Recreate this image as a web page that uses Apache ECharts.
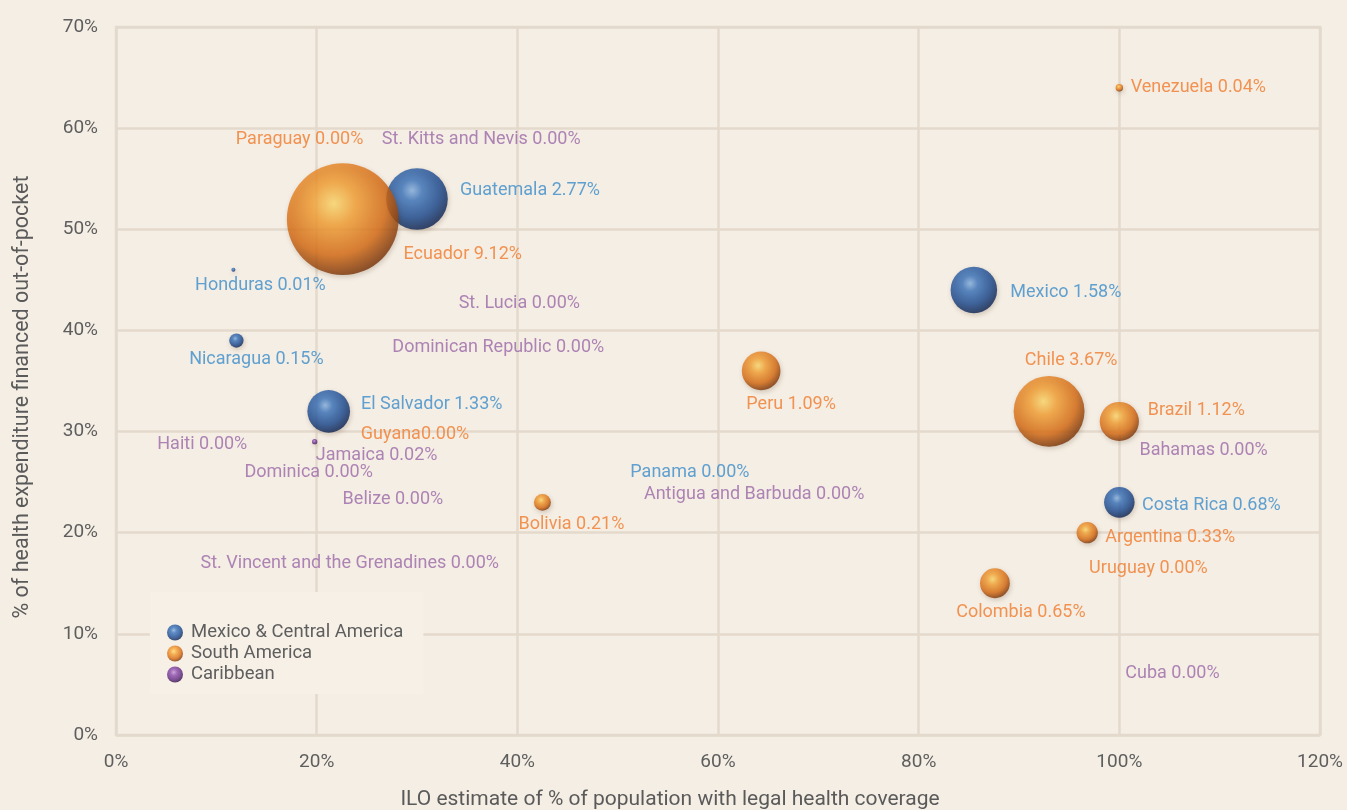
<!DOCTYPE html>
<html>
<head>
<meta charset="utf-8">
<script src="https://cdn.jsdelivr.net/npm/echarts@6/dist/echarts.min.js"></script>
<style>
  html, body { margin: 0; padding: 0; background: #f5eee4; }
  #chart { width: 1347px; height: 810px; }
</style>
</head>
<body>
<div id="chart"></div>
<script>
// Out-of-pocket health spending vs legal coverage, Latin America & Caribbean.
// x: ILO legal coverage (%), y: out-of-pocket share (%), share: bubble value (%)

const centralNames = ['Guatemala', 'Honduras', 'Nicaragua', 'El Salvador', 'Mexico', 'Costa Rica', 'Panama'];
const centralX     = [30, 11.7, 12, 21.2, 85.5, 100, 57.2];
const centralY     = [53, 46, 39, 32, 44, 23, 26];
const centralShare = [2.77, 0.01, 0.15, 1.33, 1.58, 0.68, 0.00];

const southNames = ['Venezuela', 'Ecuador', 'Paraguay', 'Peru', 'Chile', 'Brazil', 'Guyana', 'Bolivia', 'Argentina', 'Uruguay', 'Colombia'];
const southX     = [100, 22.6, 18.3, 64.3, 93, 100, 29.8, 42.5, 96.8, 102.9, 87.6];
const southY     = [64, 51, 58.9, 36, 32, 31, 29.7, 23, 20, 16.5, 15];
const southShare = [0.04, 9.12, 0.00, 1.09, 3.67, 1.12, 0.00, 0.21, 0.33, 0.00, 0.65];

const caribNames = ['St. Kitts and Nevis', 'St. Lucia', 'Dominican Republic', 'Haiti', 'Jamaica', 'Dominica', 'Belize',
                    'Antigua and Barbuda', 'St. Vincent and the Grenadines', 'Bahamas', 'Cuba'];
const caribX     = [36.4, 40.2, 38.1, 8.6, 19.8, 19.2, 27.6, 63.6, 23.3, 108.4, 105.3];
const caribY     = [58.9, 42.7, 38.3, 28.7, 29, 26, 23.3, 23.8, 17, 28.1, 6.1];
const caribShare = [0, 0, 0, 0, 0.02, 0, 0, 0, 0, 0, 0];

const xTicks = [0, 20, 40, 60, 80, 100, 120];
const yTicks = [0, 10, 20, 30, 40, 50, 60, 70];

const BG = '#f5eee4';
const FONT = 'Roboto';

// label placement: pixel offset of label centre from the bubble centre
const labelOffset = {
  'Venezuela': [79, 0], 'Ecuador': [120, 35], 'Guatemala': [113, -8], 'Honduras': [27, 16],
  'Nicaragua': [20, 19], 'El Salvador': [103, -7], 'Jamaica': [62, 14], 'Mexico': [92, 3],
  'Peru': [30, 34], 'Chile': [22, -51], 'Brazil': [77, -11], 'Costa Rica': [92, 3],
  'Argentina': [83, 5], 'Colombia': [26, 29], 'Bolivia': [29, 22]
};
const tightLabel = ['Guyana'];

function sphere(stops) {
  return {
    type: 'radial', x: 0.42, y: 0.36, r: 0.68,
    colorStops: stops.map(function (c) { return { offset: c[0], color: c[1] }; })
  };
}
const blueBall   = sphere([[0, '#86b3e4'], [0.25, '#3a74be'], [0.65, '#1a4a92'], [1, '#081c48']]);
const orangeBall = sphere([[0, '#ffdc70'], [0.28, '#f6a133'], [0.68, '#d76a12'], [1, '#6a2a04']]);
const purpleBall = sphere([[0, '#c193d8'], [0.3, '#8a4aaa'], [0.7, '#5e2680'], [1, '#2a0a3c']]);

function bubbleSize(v) {
  return v > 0 ? Math.max(4, 37 * Math.sqrt(v)) : 1;
}

function buildData(names, xs, ys, shares) {
  return names.map(function (n, i) {
    const v = shares[i];
    const item = {
      name: n,
      value: [xs[i], ys[i], v],
      symbolSize: bubbleSize(v),
      label: { offset: labelOffset[n] || [0, 0] }
    };
    if (!(v > 0)) {
      item.itemStyle = { color: 'rgba(0,0,0,0)', shadowBlur: 0 };
    }
    return item;
  });
}

function makeSeries(name, names, xs, ys, shares, ball, textColor) {
  return {
    name: name,
    type: 'scatter',
    data: buildData(names, xs, ys, shares),
    itemStyle: { color: ball, shadowBlur: 5, shadowColor: 'rgba(60,30,0,0.25)', shadowOffsetX: 1, shadowOffsetY: 2 },
    emphasis: { disabled: true },
    label: {
      show: true,
      position: 'inside',
      color: textColor,
      fontFamily: FONT,
      fontSize: 18,
      formatter: function (p) {
        const sep = tightLabel.indexOf(p.name) >= 0 ? '' : ' ';
        return p.name + sep + p.value[2].toFixed(2) + '%';
      }
    },
    z: 3
  };
}

const gridLine = { show: true, lineStyle: { color: '#e3d9cc', width: 2.5 } };

const chart = echarts.init(document.getElementById('chart'), null, { renderer: 'canvas' });
chart.setOption({
  backgroundColor: BG,
  animation: false,
  textStyle: { fontFamily: FONT },
  grid: {
    left: 116, right: 27, top: 27, bottom: 75,
    outerBoundsMode: 'none',
    show: true, borderColor: '#e3d9cc', borderWidth: 2.5
  },
  legend: {
    orient: 'vertical',
    left: 150, top: 592,
    padding: [31, 20, 10, 17],
    backgroundColor: '#f6f0e7',
    itemWidth: 16, itemHeight: 16, itemGap: 2,
    icon: 'circle',
    textStyle: { color: '#5e5e5e', fontSize: 18.5, lineHeight: 19, fontFamily: FONT, padding: [0, 0, 0, 3] },
    data: ['Mexico & Central America', 'South America', 'Caribbean']
  },
  xAxis: {
    type: 'value', min: xTicks[0], max: xTicks[xTicks.length - 1], interval: 20,
    name: 'ILO estimate of % of population with legal health coverage',
    nameLocation: 'middle', nameGap: 54,
    // title sits a little left of the plot centre
    nameTextStyle: { color: '#5a5a5a', fontSize: 21, fontFamily: FONT, padding: [0, 96, 0, 0] },
    axisLine: { show: false }, axisTick: { show: false },
    axisLabel: { color: '#5e5e5e', fontSize: 19, margin: 18, formatter: '{value}%' },
    splitLine: gridLine
  },
  yAxis: {
    type: 'value', min: yTicks[0], max: yTicks[yTicks.length - 1], interval: 10,
    name: '% of health expenditure financed out-of-pocket',
    nameLocation: 'middle', nameGap: 82,
    // title sits a little below the plot centre
    nameTextStyle: { color: '#5a5a5a', fontSize: 21.5, fontFamily: FONT, padding: [0, 32, 0, 0] },
    axisLine: { show: false }, axisTick: { show: false },
    axisLabel: { color: '#5e5e5e', fontSize: 19, margin: 18, formatter: '{value}%' },
    splitLine: gridLine
  },
  series: [
    makeSeries('Mexico & Central America', centralNames, centralX, centralY, centralShare, blueBall, '#3a8ccb'),
    makeSeries('South America', southNames, southX, southY, southShare, orangeBall, '#f07a2c'),
    makeSeries('Caribbean', caribNames, caribX, caribY, caribShare, purpleBall, '#9a68a8')
  ]
});
</script>
</body>
</html>
